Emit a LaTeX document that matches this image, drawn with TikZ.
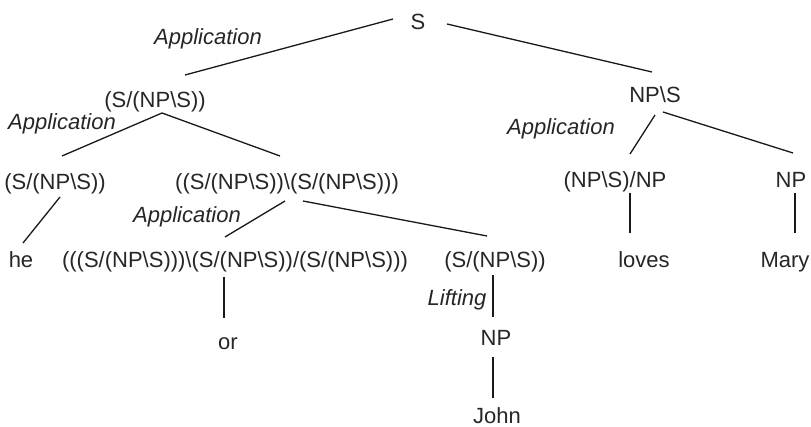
\documentclass[tikz,border=0pt]{standalone}
\usepackage{fontspec}
\setmainfont{Liberation Sans}
\usetikzlibrary{calc}
\newcommand{\bsl}{\textbackslash}
\begin{document}
\begin{tikzpicture}[x=1pt,y=-1pt,
  cat/.style={inner sep=0pt,text height=15.8pt,text depth=0pt,font=\fontsize{22}{26}\selectfont,text=black!85},
  rule/.style={inner sep=0pt,text height=15.8pt,text depth=0pt,font=\fontsize{22}{26}\selectfont\itshape,text=black!85},
  edge/.style={line width=1.3pt,black!90}]
\fill[white] (0,0) rectangle (811,427);
\useasboundingbox (0,0) rectangle (811,427);
% categories
\node[cat] (S) at (418,22) {S};
\node[cat] (A) at (155,100) {(S/(NP\bsl S))};
\node[cat] (B) at (655,95) {NP\bsl S};
\node[cat] (C) at (55,182) {(S/(NP\bsl S))};
\node[cat] (D) at (287,182) {((S/(NP\bsl S))\bsl(S/(NP\bsl S)))};
\node[cat] (E) at (615,180) {(NP\bsl S)/NP};
\node[cat] (F) at (791,180) {NP};
\node[cat] (G) at (21,260) {he};
\node[cat] (H) at (235,260) {(((S/(NP\bsl S)))\bsl(S/(NP\bsl S))/(S/(NP\bsl S)))};
\node[cat] (I) at (495,260) {(S/(NP\bsl S))};
\node[cat] (J) at (644,260) {loves};
\node[cat] (K) at (785,260) {Mary};
\node[cat] (L) at (228,342) {or};
\node[cat] (M) at (496,338) {NP};
\node[cat] (N) at (497,416) {John};
% rule labels
\node[rule] (r1) at (208,37) {Application};
\node[rule] (r2) at (62,122) {Application};
\node[rule] (r3) at (561,127) {Application};
\node[rule] (r4) at (187,215) {Application};
\node[rule] (r5) at (457,298) {Lifting};
% connectors
\draw[edge] ($(S)+(-25,-3)$) -- ($(A)+(30,-25)$);
\draw[edge] ($(S)+(29,2)$) -- ($(B)+(-3,-23)$);
\draw[edge] ($(A)+(7,13)$) -- ($(C)+(7,-26)$);
\draw[edge] ($(A)+(7,13)$) -- ($(D)+(-7,-26)$);
\draw[edge] ($(B)+(0,20)$) -- ($(E)+(15,-26)$);
\draw[edge] ($(B)+(8,17)$) -- ($(F)+(2,-27)$);
\draw[edge] ($(C)+(5,15)$) -- ($(G)+(2,-17)$);
\draw[edge] ($(D)+(-2,19)$) -- ($(H)+(-10,-23)$);
\draw[edge] ($(D)+(16,19)$) -- ($(I)+(-8,-24)$);
\draw[edge] ($(E)+(15,13)$) -- ($(J)+(-14,-27)$);
\draw[edge] ($(F)+(4,13)$) -- ($(K)+(10,-27)$);
\draw[edge] ($(H)+(-11,17)$) -- ($(L)+(-4,-24)$);
\draw[edge] ($(I)+(-2,15)$) -- ($(M)+(-3,-21)$);
\draw[edge] ($(M)+(-3,19)$) -- ($(N)+(-4,-18)$);
\end{tikzpicture}
\end{document}
